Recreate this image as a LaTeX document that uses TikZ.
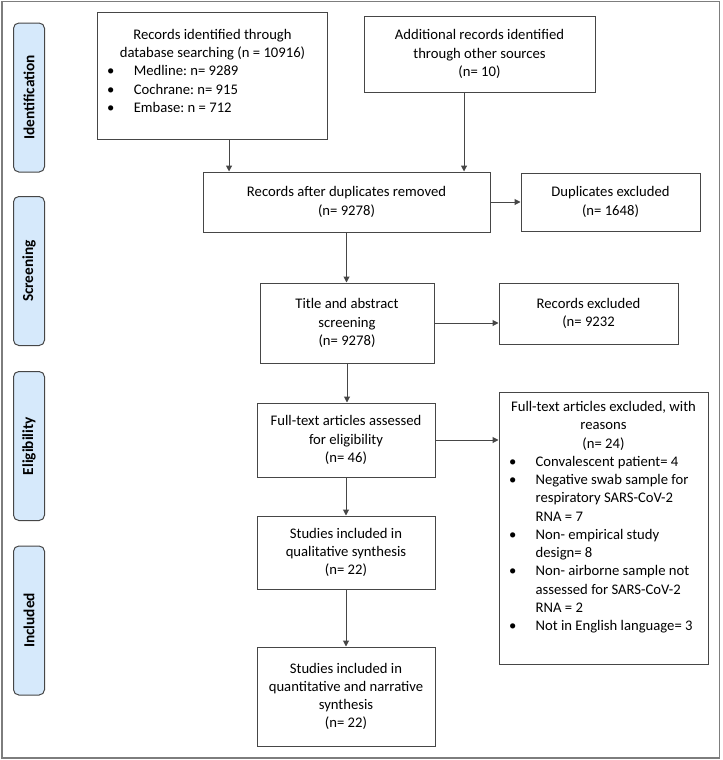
\documentclass[tikz,border=0pt]{standalone}
\usepackage{fontspec}
\setmainfont{Carlito}
\usepackage{enumitem}
\usetikzlibrary{arrows.meta}

\definecolor{stagefill}{RGB}{214,233,251}
\definecolor{linegray}{RGB}{70,70,70}
\definecolor{framegray}{RGB}{125,125,125}

\newcommand{\padbelow}[1]{\par\vspace{#1}\hrule height 0pt}
\newenvironment{reasons}{\par\begin{itemize}[label=\textbullet, leftmargin=23.5pt, labelsep=14.5pt, labelindent=0pt,
    topsep=0pt, itemsep=0pt, parsep=0pt, partopsep=0pt, before=\raggedright]}{\end{itemize}}

\tikzset{
    every node/.style={font=\fontsize{11}{13.7}\selectfont\frenchspacing},
    box/.style={rectangle, draw=linegray, line width=0.75pt, inner xsep=4pt, align=flush center},
    stage/.style={rectangle, draw=linegray, fill=stagefill, line width=0.75pt, rounded corners=4pt, rotate=90,
        minimum width=111.75pt, minimum height=23.25pt, font=\fontsize{11.5}{14}\selectfont\bfseries},
    arr/.style={draw=linegray, line width=0.75pt, -{Triangle[length=4.5pt, width=4.5pt]}}
}

\begin{document}
\begin{tikzpicture}[x=0.75pt, y=-0.75pt]
    \useasboundingbox (0,0) rectangle (722,760);
    \draw[framegray, line width=1.2pt] (2,1.5) rectangle (719.5,758);

    % stages
    \node (ident) [stage] at (29,97.5) {Identification};
    \node (screening) [stage] at (29,271) {Screening};
    \node (eligib) [stage] at (29,446) {Eligibility};
    \node (included) [stage] at (29,620.5) {Included};

    % identification
    \node (dbrec) [box, text width=165pt, minimum height=95.25pt] at (212.5,75.5) {
        Records identified through\\ database searching (n = 10916)
        \begin{reasons}
            \item Medline: n= 9289
            \item Cochrane: n= 915
            \item Embase: n = 712
        \end{reasons}
        \padbelow{7pt}};
    \node (otherrec) [box, minimum width=173.25pt, minimum height=57pt] at (479.5,54)
        {Additional records identified\\ through other sources\\ (n= 10)};

    % screening
    \node (dedup) [box, minimum width=215.25pt, minimum height=45pt] at (346.5,202)
        {Records after duplicates removed\\ (n= 9278)};
    \node (dupexcl) [box, minimum width=134.25pt, minimum height=43.5pt] at (610.5,202)
        {Duplicates excluded\\ (n= 1648)};
    \node (screen) [box, minimum width=130.5pt, minimum height=60pt] at (347,323)
        {Title and abstract\\ screening\\ (n= 9278)};
    \node (recexcl) [box, minimum width=134.25pt, minimum height=45.75pt] at (588.5,313.5)
        {Records excluded\\ (n= 9232};

    % eligibility
    \node (fulltext) [box, minimum width=133.5pt, minimum height=55.5pt] at (346,440)
        {Full-text articles assessed\\ for eligibility\\ (n= 46)};
    \node (ftexcl) [box, text width=148.75pt, minimum height=204pt] at (603.5,528) {
        Full-text articles excluded, with\\ reasons\\ (n= 24)
        \begin{reasons}
            \item Convalescent patient= 4
            \item Negative swab sample for\newline respiratory SARS-CoV-2\newline RNA = 7
            \item Non- empirical study\newline design= 8
            \item Non- airborne sample not\newline assessed for SARS-CoV-2\newline RNA = 2
            \item Not in English language= 3
        \end{reasons}
        \padbelow{16pt}};

    % included
    \node (qual) [box, minimum width=133.5pt, minimum height=54.75pt] at (346,552.5)
        {Studies included in\\ qualitative synthesis\\ (n= 22)};
    \node (quant) [box, minimum width=133.5pt, minimum height=74.25pt] at (346,696.5)
        {Studies included in\\ quantitative and narrative\\ synthesis\\ (n= 22)};

    % arrows
    \coordinate (dbout) at ([xshift=12.4pt]dbrec.south);
    \coordinate (otherout) at ([xshift=-11.6pt]otherrec.south);
    \draw[arr] (dbout) -- (dbout |- dedup.north);
    \draw[arr] (otherout) -- (otherout |- dedup.north);
    \draw[arr] (dedup.east) -- (dupexcl.west);
    \draw[arr] (dedup.south) -- (dedup.south |- screen.north);
    \draw[arr] (screen.east) -- (screen.east -| recexcl.west);
    \draw[arr] (screen.south) -- (screen.south |- fulltext.north);
    \draw[arr] (fulltext.east) -- (fulltext.east -| ftexcl.west);
    \draw[arr] (fulltext.south) -- (fulltext.south |- qual.north);
    \draw[arr] (qual.south) -- (qual.south |- quant.north);
\end{tikzpicture}
\end{document}
